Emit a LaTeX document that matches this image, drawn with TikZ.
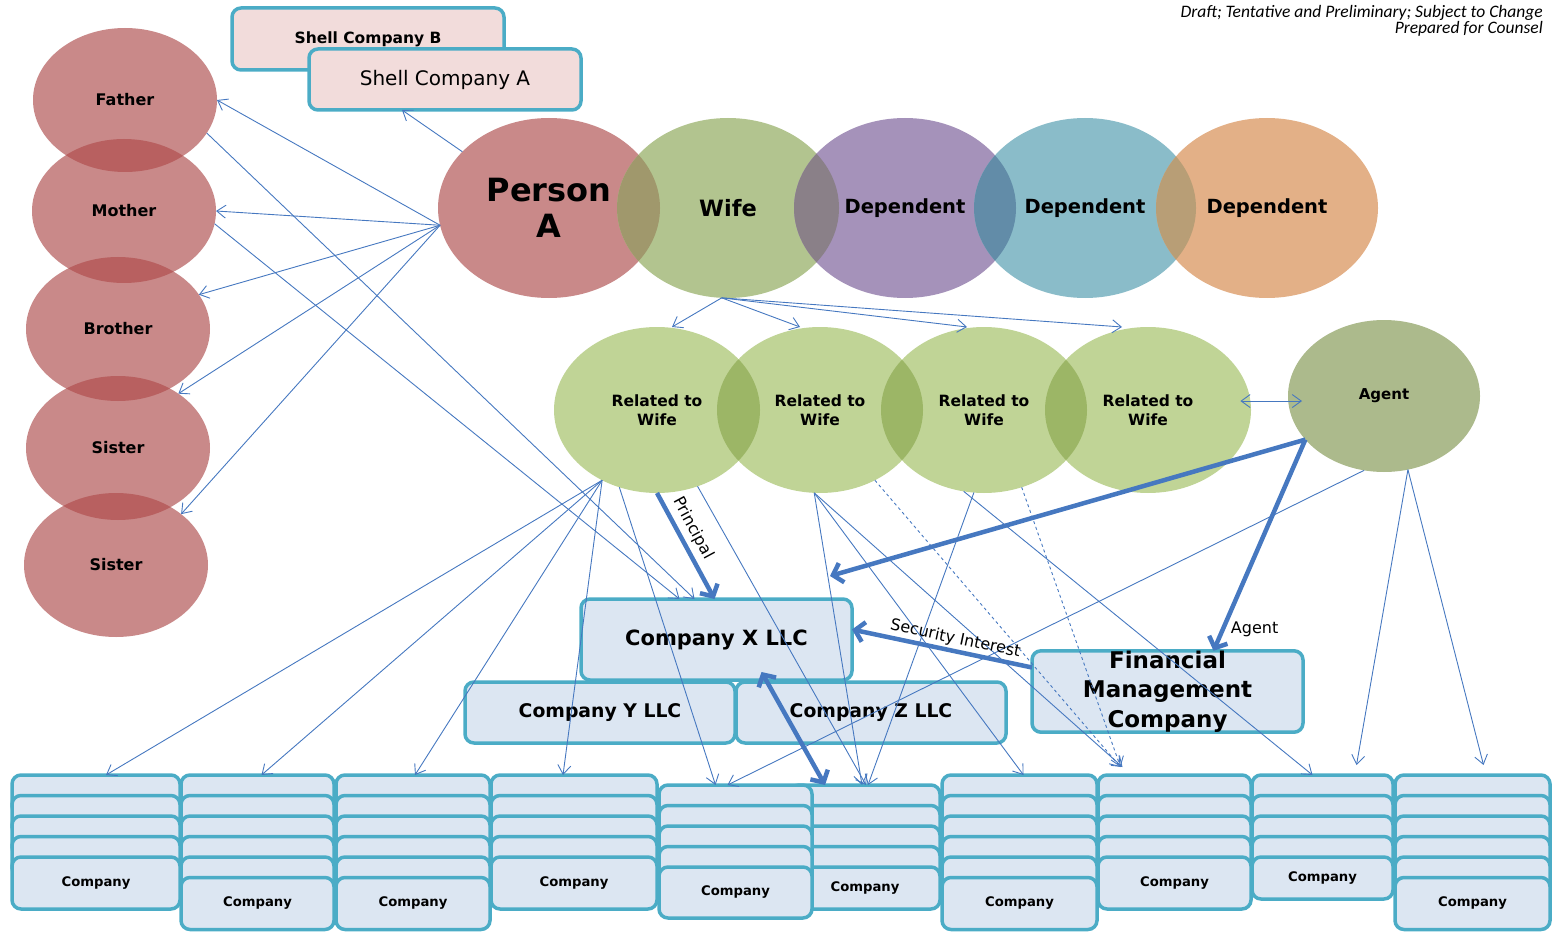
\documentclass[tikz,border=0pt]{standalone}
\usepackage{fontspec}
\setmainfont{DejaVu Sans}
\newfontfamily\calfont{Carlito}
\usetikzlibrary{shapes.geometric,arrows.meta}

\definecolor{pinkc}{RGB}{201,137,137}
\definecolor{pinklens}{RGB}{184,96,96}
\definecolor{wifec}{RGB}{178,196,143}
\definecolor{depa}{RGB}{165,146,186}
\definecolor{depb}{RGB}{138,188,201}
\definecolor{depc}{RGB}{227,176,135}
\definecolor{pwlens}{RGB}{160,152,108}
\definecolor{wdlens}{RGB}{138,128,136}
\definecolor{ddlens}{RGB}{98,140,168}
\definecolor{dclens}{RGB}{184,158,118}
\definecolor{relc}{RGB}{192,212,150}
\definecolor{rellens}{RGB}{156,182,102}
\definecolor{agentc}{RGB}{172,186,140}
\definecolor{boxfill}{RGB}{220,230,242}
\definecolor{boxline}{RGB}{75,172,198}
\definecolor{shellfill}{RGB}{242,220,219}
\definecolor{arr}{RGB}{70,120,192}

% darker lens where two balls meet
\newcommand{\overlap}[5]{%
  \begin{scope}
    \clip (#1.center) ellipse [x radius=#3, y radius=#4];
    \fill[#5] (#2.center) ellipse [x radius=#3, y radius=#4];
  \end{scope}}

\tikzset{
  famball/.style={ellipse, inner sep=0pt, outer sep=0pt, minimum width=184pt, minimum height=144pt, fill=pinkc, font=\bfseries\fontsize{16}{19}\selectfont},
  topball/.style={ellipse, inner sep=0pt, outer sep=0pt, minimum width=222pt, minimum height=180pt, font=\bfseries\fontsize{19.5}{23}\selectfont},
  relball/.style={ellipse, inner sep=0pt, outer sep=0pt, minimum width=206pt, minimum height=166pt, fill=relc, align=center, font=\bfseries\fontsize{15.5}{19}\selectfont},
  cobox/.style={draw=boxline, line width=3.5pt, fill=boxfill, rounded corners=9pt, inner sep=0pt, outer sep=0pt, align=center},
  shellbox/.style={cobox, fill=shellfill},
  strip/.style={cobox, minimum height=40pt},
  thinarr/.style={draw=arr, line width=0.9pt, -{Straight Barb[length=9pt,width=13pt]}},
  thinboth/.style={draw=arr, line width=0.9pt, {Straight Barb[length=9pt,width=13pt]}-{Straight Barb[length=9pt,width=13pt]}},
  fatarr/.style={draw=arr, line width=4.5pt, -{Straight Barb[length=9pt,width=20pt]}},
  fatboth/.style={draw=arr, line width=4.5pt, {Straight Barb[length=9pt,width=20pt]}-{Straight Barb[length=9pt,width=20pt]}},
  lbl/.style={font=\fontsize{16}{19}\selectfont, text=black, inner sep=2pt}
}

\begin{document}
\begin{tikzpicture}[x=1pt,y=-1pt]
\useasboundingbox (0,0) rectangle (1552,933);

\node[anchor=north east, align=right, inner sep=0pt, font=\calfont\itshape\fontsize{17.5}{15}\selectfont] (draft) at (1543,5) {Draft; Tentative and Preliminary; Subject to Change\\Prepared for Counsel};

% family column
\node[famball] (father) at (125,100) {Father};
\node[famball] (mother) at (124,211) {Mother};
\node[famball] (brother) at (118,329) {Brother};
\node[famball] (sisterA) at (118,448) {Sister};
\node[famball] (sisterB) at (116,565) {Sister};
\overlap{father}{mother}{92}{72}{pinklens}
\overlap{mother}{brother}{92}{72}{pinklens}
\overlap{brother}{sisterA}{92}{72}{pinklens}
\overlap{sisterA}{sisterB}{92}{72}{pinklens}

% shells
\node[shellbox, minimum width=272pt, minimum height=62pt, font=\bfseries\fontsize{15.5}{18}\selectfont] (shellB) at (368,39) {Shell Company B};
\node[shellbox, minimum width=272pt, minimum height=61pt, font=\fontsize{20}{24}\selectfont] (shellA) at (445,79.5) {Shell Company A};

% top row
\node[topball, fill=pinkc, align=center, font=\bfseries\fontsize{32}{36}\selectfont] (personA) at (549,208) {Person\\A};
\node[topball, fill=wifec, font=\bfseries\fontsize{22.5}{25}\selectfont] (wife) at (728,208) {Wife};
\node[topball, fill=depa] (depA) at (905,208) {Dependent};
\node[topball, fill=depb] (depB) at (1085,208) {Dependent};
\node[topball, fill=depc] (depC) at (1267,208) {Dependent};
\overlap{personA}{wife}{111}{90}{pwlens}
\overlap{wife}{depA}{111}{90}{wdlens}
\overlap{depA}{depB}{111}{90}{ddlens}
\overlap{depB}{depC}{111}{90}{dclens}

% wife's side
\node[relball] (relA) at (657,410) {Related to\\Wife};
\node[relball] (relB) at (820,410) {Related to\\Wife};
\node[relball] (relC) at (984,410) {Related to\\Wife};
\node[relball] (relD) at (1148,410) {Related to\\Wife};
\overlap{relA}{relB}{103}{83}{rellens}
\overlap{relB}{relC}{103}{83}{rellens}
\overlap{relC}{relD}{103}{83}{rellens}
\node[relball, fill=agentc, minimum width=192pt, minimum height=152pt, font=\bfseries\fontsize{15}{18}\selectfont] (agent) at (1384,396) {Agent};

% companies
\node[cobox, minimum width=271pt, minimum height=81pt, font=\bfseries\fontsize{21}{24}\selectfont] (compX) at (716.5,639.5) {Company X LLC};
\node[cobox, minimum width=270pt, minimum height=61pt, font=\bfseries\fontsize{18.8}{22}\selectfont] (compY) at (600,712.5) {Company Y LLC};
\node[cobox, minimum width=270pt, minimum height=61pt, font=\bfseries\fontsize{18.8}{22}\selectfont] (compZ) at (871,712.5) {Company Z LLC};
\node[cobox, minimum width=271pt, minimum height=81pt, font=\bfseries\fontsize{23}{29.5}\selectfont] (fmc) at (1167.5,691.5) {Financial\\Management\\Company};

% stacks of companies
\foreach \xa/\xb/\yt/\n/\h/\name in {12/180/775/4/52/stack1, 181/334/775/5/52/stack2, 336/490/775/5/52/stack3, 491/657/775/4/52/stack4, 790/940/785/4/42/stack6, 659/812/785/4/51/stack5, 942/1097/775/5/52/stack7, 1098/1251/775/4/52/stack8, 1252/1393/775/4/42/stack9, 1395/1550/775/5/52/stack10} {
  \node[strip, minimum width={(\xb-\xa)*1pt}] (\name) at ({(\xa+\xb)/2},{\yt+20}) {};
  \pgfmathtruncatemacro{\m}{\n-1}
  \foreach \i in {1,...,\m}
    \node[strip, minimum width={(\xb-\xa)*1pt}] (\name-\i) at ({(\xa+\xb)/2},{\yt+20.5*\i+20}) {};
  \node[cobox, minimum width={(\xb-\xa)*1pt}, minimum height={\h*1pt}, font=\bfseries\fontsize{13.2}{16}\selectfont] (\name-co) at ({(\xa+\xb)/2},{\yt+20.5*\n+\h/2}) {Company};
}

% person A
\draw[thinarr] (personA.189) -- (father.east);
\draw[thinarr] (personA.189) -- (mother.east);
\draw[thinarr] (personA.189) -- (brother.23);
\draw[thinarr] (personA.189) -- (sisterA.42);
\draw[thinarr] (personA.189) -- (sisterB.38);
\draw[thinarr] (personA.147) -- ([xshift=-43pt]shellA.south);
\draw[thinarr] (father.-22) -- ([xshift=-22pt]compX.north);
\draw[thinarr] (mother.-8) -- ([xshift=-37pt]compX.north);

% wife
\foreach \s/\t in {15pt/relA, -20pt/relB, -17pt/relC, -26pt/relD}
  \draw[thinarr] (wife.266) -- ([xshift=\s]\t.north);
\draw[thinboth] ([xshift=-10pt]relD.5) -- ([xshift=14pt]relD.5 -| agent.west);

% related to wife
\foreach \s/\t in {10pt/stack1, 4pt/stack2, 2pt/stack3, -11pt/stack4}
  \draw[thinarr] (relA.232) -- ([xshift=\s]\t.north);
\draw[thinarr] (relA.244) -- ([xshift=-20pt]stack5.north);
\draw[thinarr] (relA.-62) -- ([xshift=1pt]stack6.north);
\draw[thinarr] (relB.266) -- ([xshift=-3pt]stack6.north);
\draw[thinarr] (relB.266) -- ([xshift=4pt]stack7.north);
\draw[thinarr] (relB.266) -- ([shift={(-52pt,8pt)}]stack8.north);
\draw[thinarr] (relC.263) -- ([xshift=3pt]stack6.north);
\draw[thinarr] (relC.256) -- ([xshift=-10pt]stack9.north);
\draw[thinarr, dashed] (relB.-52) -- ([shift={(-54pt,8pt)}]stack8.north);
\draw[thinarr, dashed] (relC.-64) -- ([shift={(-54pt,8pt)}]stack8.north);

% agent
\draw[thinarr] (agent.255) -- ([xshift=-8pt]stack5.north);
\draw[thinarr] (agent.-72) -- ([shift={(34pt,10pt)}]stack9.north);
\draw[thinarr] (agent.-72) -- ([shift={(11pt,10pt)}]stack10.north);

% heavy links
\draw[fatarr] (relA.south) -- ([xshift=-2pt]compX.north) node[pos=0.4, sloped, above=3pt, lbl] {Principal};
\draw[fatarr] (agent.209) -- ([shift={(-22pt,23pt)}]compX.north east);
\draw[fatarr] (agent.209) -- ([xshift=46pt]fmc.north) node[pos=0.9, right=4pt, lbl] {Agent};
\draw[fatarr] ([yshift=24pt]fmc.west) -- ([yshift=10pt]compX.east) node[pos=0.44, sloped, above, lbl] {Security Interest};
\draw[fatboth] ([shift={(45pt,8pt)}]compX.south) -- ([xshift=-40pt]stack6.north);

\end{tikzpicture}
\end{document}
